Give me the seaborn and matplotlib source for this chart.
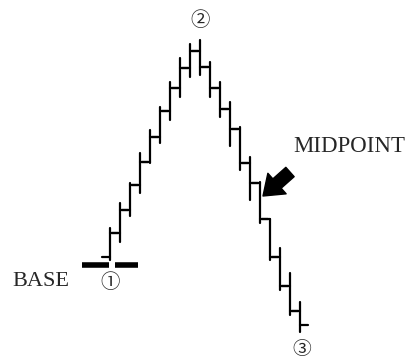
import matplotlib
matplotlib.use('Agg')
import matplotlib.pyplot as plt
import pandas as pd
import seaborn as sns

# price bars (one bar per period)
days = list(range(1, 21))
highs = [61, 73.5, 83.5, 98.5, 110, 121.5, 134, 146, 153, 155,
         144, 134, 124, 111.5, 96.5, 84, 65.5, 51, 38.5, 24]
lows = [45, 54, 67, 78.5, 93.5, 103.5, 115, 126.5, 136.5, 137.5,
        126.5, 116.5, 102, 90, 75, 63.5, 45, 30, 17.5, 9]
closes = [58.5, 70, 82.5, 94, 106.5, 119.5, 131, 141, 149.5, 141.5,
          131, 120.5, 110.5, 93.5, 83.5, 65.5, 46.5, 32, 19.5, 12.5]
opens = [46.5] + closes[:-1]
base_level = 42.5

sns.set_style('white')

rows = []
tick = 0.8
for i, d in enumerate(days):
    rows += [('v%d' % i, d, lows[i]), ('v%d' % i, d, highs[i])]
    rows += [('o%d' % i, d - tick, opens[i]), ('o%d' % i, d, opens[i])]
    rows += [('c%d' % i, d, closes[i]), ('c%d' % i, d + tick, closes[i])]
df = pd.DataFrame(rows, columns=['seg', 'day', 'price'])

fig = plt.figure(figsize=(4.16, 3.58), dpi=100)
ax = fig.add_axes([0, 0, 1, 1])
sns.lineplot(data=df, x='day', y='price', units='seg', estimator=None, sort=False,
             color='black', linewidth=1.6, legend=False, ax=ax)

# thick base marks either side of point 1
ax.hlines(base_level, days[0] - 2.8, days[0] - 0.1, color='black', linewidth=4)
ax.hlines(base_level, days[0] + 0.5, days[0] + 2.8, color='black', linewidth=4)

ax.set_xlim(-10, 31.6)
ax.set_ylim(-4, 175)
ax.axis('off')

serif = ['Liberation Serif', 'DejaVu Serif']
circ = ['Noto Sans CJK JP', 'DejaVu Sans']

ax.text(12 / 416, 1 - 282 / 358, 'BASE', transform=ax.transAxes, family=serif,
        fontsize=16, ha='left', va='center')
ax.text(293 / 416, 1 - 146 / 358, 'MIDPOINT', transform=ax.transAxes, family=serif,
        fontsize=16.5, ha='left', va='center')

ax.text(days[0], base_level - 9, '\u2460', family=circ, fontsize=14, ha='center', va='center')
ax.text(days[9], max(highs) + 9.5, '\u2461', family=circ, fontsize=14, ha='center', va='center')
ax.text(days[-1] + 0.2, min(lows) - 8.5, '\u2462', family=circ, fontsize=13.5, ha='center', va='center')

ax.annotate('', xy=(days[15] + 0.3, 77), xytext=(days[18], 89),
            arrowprops=dict(arrowstyle='simple,head_length=0.75,head_width=1.1,tail_width=0.5',
                            color='black', shrinkA=0, shrinkB=0, mutation_scale=18))

fig.savefig('out.png', dpi=100)
